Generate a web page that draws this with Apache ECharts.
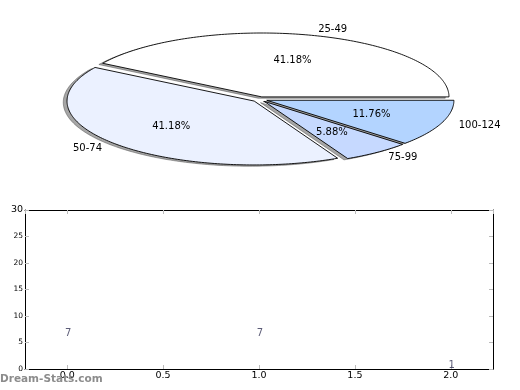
<!DOCTYPE html>
<html>
<head>
<meta charset="utf-8">
<script src="https://cdn.jsdelivr.net/npm/echarts@6/dist/echarts.min.js"></script>
<style>
html,body{margin:0;padding:0;background:#fff;}
#chart{width:520px;height:390px;}
</style>
</head>
<body>
<div id="chart"></div>
<script>
// ---- data ----
var pieLabels = ['25-49', '50-74', '75-99', '100-124'];
var pieValues = [7, 7, 1, 2];
var pieColors = ['#ffffff', '#ebf1ff', '#c6d9ff', '#b3d4ff'];
var barX = [0, 1, 2];
var barValues = [7, 7, 1];
var xTicks = [0.0, 0.5, 1.0, 1.5, 2.0];
var yTicks = [0, 5, 10, 15, 20, 25, 30];

var FONT = 'DejaVu Sans';
var explode = 0.04;
var total = pieValues.reduce(function (a, b) { return a + b; }, 0);
var starts = [];
(function () { var c = 0; for (var i = 0; i < pieValues.length; i++) { starts.push(c); c += pieValues[i]; } })();

function wedgeGeom(i) {
  var a0 = starts[i] / total * 2 * Math.PI;
  var a1 = (starts[i] + pieValues[i]) / total * 2 * Math.PI;
  var mid = (a0 + a1) / 2;
  return { a0: a0, a1: a1, mid: mid, ox: explode * Math.cos(mid), oy: explode * Math.sin(mid) };
}
function wedgePoints(api, g, dx, dy) {
  var pts = [api.coord([g.ox + dx, g.oy + dy])];
  var n = Math.max(4, Math.ceil((g.a1 - g.a0) / (Math.PI / 180)));
  for (var k = 0; k <= n; k++) {
    var t = g.a0 + (g.a1 - g.a0) * k / n;
    pts.push(api.coord([g.ox + dx + Math.cos(t), g.oy + dy + Math.sin(t)]));
  }
  return pts;
}

var pieData = pieValues.map(function (v, i) { return [i, v]; });

var chart = echarts.init(document.getElementById('chart'), null, { renderer: 'canvas' });
chart.setOption({
  animation: false,
  backgroundColor: '#ffffff',
  grid: [
    { left: 16.4, right: 16.9, top: 16.3, bottom: 207.6, show: false },
    { left: 25, right: 27, top: 210, bottom: 21, show: false }
  ],
  xAxis: [
    { gridIndex: 0, type: 'value', min: -1.3, max: 1.3, show: false },
    {
      gridIndex: 1, type: 'value', min: -0.22, max: 2.22, splitNumber: 5,
      axisLine: { show: true, onZero: false, lineStyle: { color: '#000', width: 1 } },
      axisTick: { show: true, inside: true, length: 4, lineStyle: { color: '#bbbbbb' } },
      axisLabel: {
        show: true, margin: 2, color: '#000', fontFamily: FONT, fontSize: 9.5,
        showMinLabel: false, showMaxLabel: false,
        formatter: function (v) {
          for (var i = 0; i < xTicks.length; i++) if (Math.abs(v - xTicks[i]) < 1e-6) return xTicks[i].toFixed(1);
          return '';
        }
      },
      splitLine: { show: false }
    },
    {
      gridIndex: 1, type: 'value', min: -0.22, max: 2.22, splitNumber: 5, position: 'top',
      axisLine: { show: true, onZero: false, lineStyle: { color: '#000', width: 1 } },
      axisTick: { show: true, inside: true, length: 4, lineStyle: { color: '#bbbbbb' } },
      axisLabel: { show: false }, splitLine: { show: false }
    }
  ],
  yAxis: [
    { gridIndex: 0, type: 'value', min: -1.3, max: 1.3, show: false },
    {
      gridIndex: 1, type: 'value', min: 0, max: 30, interval: 5,
      axisLine: { show: true, onZero: false, lineStyle: { color: '#000', width: 1 } },
      axisTick: { show: true, inside: true, length: 4, lineStyle: { color: '#bbbbbb' } },
      axisLabel: {
        show: true, margin: 2, color: '#000', fontFamily: FONT, fontSize: 7.5,
        formatter: function (v) { return v === yTicks[yTicks.length - 1] ? '{big|' + v + '}' : String(v); },
        rich: { big: { fontSize: 9.5, fontFamily: FONT, color: '#000' } }
      },
      splitLine: { show: false }
    },
    {
      gridIndex: 1, type: 'value', min: 0, max: 30, interval: 5, position: 'right',
      axisLine: { show: true, onZero: false, lineStyle: { color: '#000', width: 1 } },
      axisTick: { show: true, inside: true, length: 4, lineStyle: { color: '#bbbbbb' } },
      axisLabel: { show: false }, splitLine: { show: false }
    }
  ],
  series: [
    {
      type: 'custom', xAxisIndex: 0, yAxisIndex: 0, z: 1, clip: false,
      data: pieData,
      renderItem: function (params, api) {
        var i = api.value(0);
        var g = wedgeGeom(i);
        return {
          type: 'polygon',
          shape: { points: wedgePoints(api, g, -0.02, -0.02) },
          style: { fill: 'rgba(77,77,77,0.5)', stroke: 'rgba(77,77,77,0.5)', lineWidth: 1 }
        };
      }
    },
    {
      type: 'custom', xAxisIndex: 0, yAxisIndex: 0, z: 2, clip: false,
      data: pieData,
      renderItem: function (params, api) {
        var i = api.value(0);
        var g = wedgeGeom(i);
        var c = Math.cos(g.mid), s = Math.sin(g.mid);
        var lp = api.coord([g.ox + 1.1 * c, g.oy + 1.1 * s]);
        var pp = api.coord([g.ox + 0.6 * c, g.oy + 0.6 * s]);
        var al = c >= 0 ? 'left' : 'right';
        var pct = (pieValues[i] / total * 100).toFixed(2) + '%';
        return {
          type: 'group',
          children: [
            {
              type: 'polygon',
              shape: { points: wedgePoints(api, g, 0, 0) },
              style: { fill: pieColors[i], stroke: '#000', lineWidth: 0.9 }
            },
            {
              type: 'text', z2: 10,
              style: { text: pieLabels[i], x: lp[0], y: lp[1], fill: '#000', font: '10px "DejaVu Sans"',
                align: al, textAlign: al, verticalAlign: 'middle', textVerticalAlign: 'middle' }
            },
            {
              type: 'text', z2: 10,
              style: { text: pct, x: pp[0], y: pp[1], fill: '#000', font: '10px "DejaVu Sans"',
                align: 'center', textAlign: 'center', verticalAlign: 'middle', textVerticalAlign: 'middle' }
            }
          ]
        };
      }
    },
    {
      type: 'scatter', xAxisIndex: 1, yAxisIndex: 1, symbolSize: 0, z: 5,
      data: barX.map(function (x, i) { return [x, barValues[i]]; }),
      label: {
        show: true, position: 'inside', offset: [1, 1.5], color: '#333355', fontFamily: FONT, fontSize: 10,
        formatter: function (p) { return String(p.value[1]); }
      }
    }
  ],
  graphic: [
    {
      type: 'text', left: 0, top: 374, z: 100,
      style: { text: 'Dream-Stats.com', fill: '#8c8c8c', font: 'bold 10.5px "DejaVu Sans"' }
    }
  ]
});
</script>
</body>
</html>
